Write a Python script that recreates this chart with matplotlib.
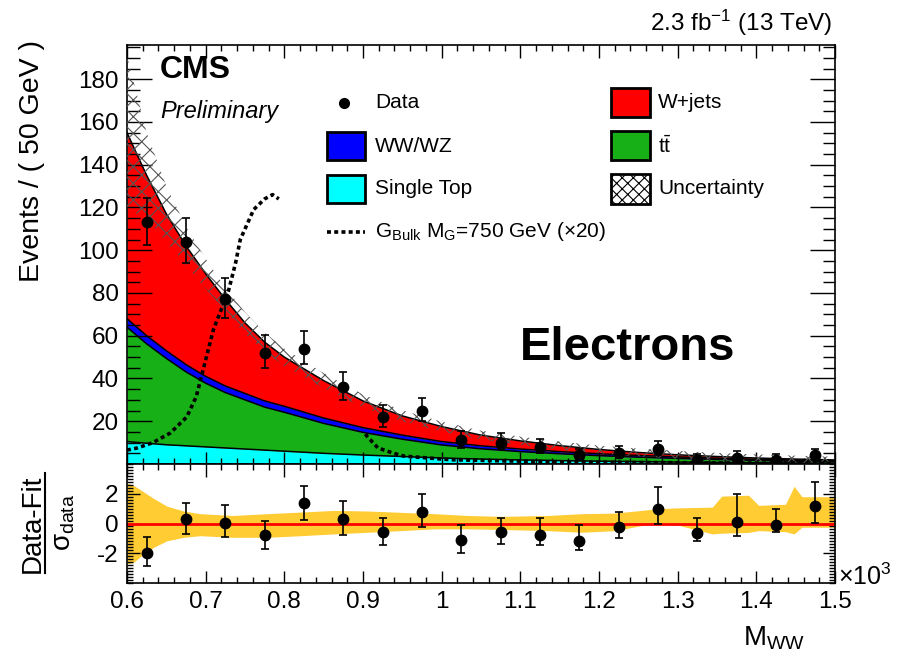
import matplotlib
matplotlib.use('Agg')
import matplotlib.pyplot as plt
import numpy as np
from matplotlib.ticker import MultipleLocator, FixedLocator, FuncFormatter
from matplotlib.patches import Rectangle
from matplotlib.lines import Line2D

plt.rcParams['font.family'] = ['Liberation Sans', 'DejaVu Sans']
plt.rcParams['mathtext.fontset'] = 'custom'
plt.rcParams['mathtext.rm'] = 'Liberation Sans'
plt.rcParams['mathtext.it'] = 'Liberation Sans:italic'
plt.rcParams['mathtext.bf'] = 'Liberation Sans:bold'
plt.rcParams['axes.unicode_minus'] = False
plt.rcParams['hatch.linewidth'] = 0.8

# ---------------- data ----------------
bin_centers = [0.625, 0.675, 0.725, 0.775, 0.825, 0.875, 0.925, 0.975, 1.025,
               1.075, 1.125, 1.175, 1.225, 1.275, 1.325, 1.375, 1.425, 1.475]
data_counts = [113, 104, 77, 52, 54, 36, 22, 25, 11, 10, 8, 4, 5, 7, 2, 3, 2, 4]
data_err_lo = [10.6, 10.2, 8.8, 7.2, 7.3, 6.0, 4.7, 5.0, 3.3, 3.1, 2.8, 1.9, 2.2, 2.6, 1.3, 1.6, 1.3, 1.9]
data_err_hi = [11.6, 11.2, 9.8, 8.3, 8.4, 7.1, 5.8, 6.1, 4.4, 4.3, 3.9, 3.2, 3.4, 3.8, 2.6, 2.9, 2.6, 3.2]

fit_x = [0.600, 0.625, 0.650, 0.675, 0.700, 0.725, 0.750, 0.775, 0.800, 0.850, 0.900, 0.950,
         1.000, 1.050, 1.100, 1.150, 1.200, 1.250, 1.300, 1.350, 1.400, 1.450, 1.500]
single_top = [10.5, 9.7, 9.0, 8.5, 8.0, 7.5, 7.0, 6.5, 6.0, 5.0, 4.2, 3.5, 2.8, 2.3, 1.9, 1.6,
              1.3, 1.1, 0.9, 0.75, 0.6, 0.5, 0.4]
ttbar = [53.5, 46.5, 40.4, 34.6, 29.8, 25.9, 23.0, 20.1, 18.2, 14.0, 10.6, 8.1, 6.1, 4.8, 3.9,
         3.2, 2.6, 2.1, 1.7, 1.35, 1.1, 0.85, 0.7]
ww_wz = [4.0, 3.8, 3.6, 3.4, 3.2, 3.1, 3.0, 2.9, 2.8, 2.5, 2.2, 1.9, 1.6, 1.4, 1.2, 1.0, 0.9,
         0.8, 0.7, 0.6, 0.5, 0.45, 0.4]
wjets = [87, 75, 64, 55.5, 48, 40.5, 33, 27.5, 23, 17.5, 12.5, 9, 7, 5, 3.8, 2.8, 2.0, 1.4,
         1.0, 0.8, 0.6, 0.5, 0.4]
unc_err = [36, 20, 13, 9, 7, 5.5, 5, 4.5, 4, 3.5, 3, 2.6, 2.3, 2.1, 2.0, 1.9, 1.8, 1.8, 1.8,
           1.7, 1.7, 1.6, 1.5]

sig1_x = [0.600, 0.613, 0.633, 0.655, 0.676, 0.688, 0.696, 0.710, 0.729, 0.738, 0.744, 0.761,
          0.775, 0.785, 0.793]
sig1_y = [6.5, 7.5, 10, 14.5, 22, 31.5, 43, 63, 81, 94, 105, 119, 124, 126, 124]
sig2_x = [0.903, 0.906, 0.919, 0.939, 0.952, 0.983, 1.012, 1.076, 1.15, 1.25, 1.35, 1.5]
sig2_y = [14, 12.6, 7.5, 5, 3.7, 2.8, 2.0, 1.5, 1.0, 0.7, 0.5, 0.3]

resid = [-1.95, 0.32, 0.02, -0.75, 1.35, 0.32, -0.6, 0.77, -1.1, -0.6, -0.75, -1.15, -0.25,
         0.95, -0.65, 0.1, -0.13, 1.15]
resid_lo = [0.9, 1.05, 0.95, 0.97, 1.1, 1.07, 0.83, 1.0, 0.85, 0.8, 0.7, 0.65, 0.72, 1.0,
            0.5, 0.95, 0.47, 1.1]
resid_hi = [1.02, 1.06, 1.2, 0.95, 1.17, 1.18, 1.0, 1.2, 1.0, 1.0, 1.1, 1.06, 1.0, 1.5,
            1.05, 1.9, 1.08, 1.65]

band_x = [0.600, 0.608, 0.621, 0.634, 0.651, 0.672, 0.693, 0.735, 0.778, 0.821, 0.863, 0.906,
          0.948, 0.991, 1.033, 1.076, 1.135, 1.178, 1.220, 1.254, 1.276, 1.300, 1.344, 1.356,
          1.390, 1.403, 1.437, 1.448, 1.458, 1.488, 1.500]
band_hi = [2.7, 2.58, 2.13, 1.68, 1.16, 0.84, 0.66, 0.54, 0.66, 0.77, 0.88, 0.84, 0.75, 0.66,
           0.54, 0.48, 0.54, 0.66, 0.70, 0.88, 1.0, 1.05, 1.1, 1.84, 1.9, 1.22, 1.29, 2.5,
           1.8, 1.8, 1.8]
band_lo = [-2.7, -2.63, -2.05, -1.6, -1.16, -0.93, -0.82, -0.93, -0.93, -0.82, -0.7, -0.59,
           -0.48, -0.36, -0.36, -0.4, -0.48, -0.59, -0.48, -0.14, 0.0, -0.1, -0.7, -0.65,
           -0.6, -0.48, -0.55, -0.7, -0.25, -0.25, -0.25]

# ---------------- figure ----------------
W, H = 910, 658
fig = plt.figure(figsize=(W / 100, H / 100), dpi=100)
L, R = 127, 835
T1, B1, B2 = 45, 464, 583
ax = fig.add_axes([L / W, 1 - B1 / H, (R - L) / W, (B1 - T1) / H])
rax = fig.add_axes([L / W, 1 - B2 / H, (R - L) / W, (B2 - B1) / H])

def fx(px):
    return px / W

def fy(py):
    return 1 - py / H

x = np.array(fit_x)
c1 = np.array(single_top)
c2 = c1 + np.array(ttbar)
c3 = c2 + np.array(ww_wz)
c4 = c3 + np.array(wjets)
unc = np.array(unc_err)

col_st, col_tt, col_ww, col_wj = '#00ffff', '#17b017', '#0000ff', '#ff0000'
ax.fill_between(x, 0, c1, color=col_st, lw=0, zorder=1)
ax.fill_between(x, c1, c2, color=col_tt, lw=0, zorder=1)
ax.fill_between(x, c2, c3, color=col_ww, lw=0, zorder=1)
ax.fill_between(x, c3, c4, color=col_wj, lw=0, zorder=1)
for c in (c1, c2, c3, c4):
    ax.plot(x, c, color='k', lw=1.1, zorder=2)
ax.fill_between(x, c4 - unc, c4 + unc, facecolor='none', edgecolor='#555555',
                hatch='xx', lw=0, zorder=3)

ax.plot(sig1_x, sig1_y, color='k', lw=2.6, ls=(0, (1.1, 0.9)), zorder=5)
ax.plot(sig2_x, sig2_y, color='k', lw=2.6, ls=(0, (1.1, 0.9)), zorder=5)

ax.errorbar(bin_centers, data_counts, yerr=[data_err_lo, data_err_hi], fmt='o', color='k',
            ms=7.5, elinewidth=1.2, capsize=3, capthick=1.2, zorder=6)

ax.set_xlim(0.6, 1.5)
ax.set_ylim(0, 196)
ax.xaxis.set_major_locator(MultipleLocator(0.1))
ax.xaxis.set_minor_locator(MultipleLocator(0.02))
ax.yaxis.set_major_locator(MultipleLocator(20))
ax.yaxis.set_minor_locator(MultipleLocator(5))
ax.yaxis.set_major_formatter(FuncFormatter(lambda v, p: '' if abs(v) < 1e-9 else f'{v:.0f}'))
ax.tick_params(which='both', direction='in', top=True, right=True, labelbottom=False,
               width=1, labelsize=17.5)
ax.tick_params(axis='y', which='major', length=18, pad=6)
ax.tick_params(axis='y', which='minor', length=9)
ax.tick_params(axis='x', which='major', length=9)
ax.tick_params(axis='x', which='minor', length=4.5)
for s in ax.spines.values():
    s.set_linewidth(1.2)

# residual panel
rax.fill_between(band_x, band_lo, band_hi, color='#ffcc33', lw=0, zorder=1)
rax.axhline(0, color='#ff0000', lw=2, zorder=2)
rax.errorbar(bin_centers, resid, yerr=[resid_lo, resid_hi], fmt='o', color='k', ms=7.5,
             elinewidth=1.2, capsize=3, capthick=1.2, zorder=3)
rax.set_xlim(0.6, 1.5)
rax.set_ylim(-4, 4)
rax.xaxis.set_major_locator(MultipleLocator(0.1))
rax.xaxis.set_minor_locator(MultipleLocator(0.02))
rax.xaxis.set_major_formatter(FuncFormatter(lambda v, p: f'{v:g}'))
rax.yaxis.set_major_locator(FixedLocator([-2, 0, 2]))
rax.yaxis.set_minor_locator(MultipleLocator(0.2))
rax.yaxis.set_major_formatter(FuncFormatter(lambda v, p: f'{v:g}'))
rax.tick_params(which='both', direction='in', top=True, right=True, width=1, labelsize=17.5)
rax.tick_params(axis='y', which='major', length=9, pad=6)
rax.tick_params(axis='y', which='minor', length=4.5)
rax.tick_params(axis='x', which='major', length=9, pad=6)
rax.tick_params(axis='x', which='minor', length=4.5)
for s in rax.spines.values():
    s.set_linewidth(1.2)

# ---------------- texts ----------------
fig.text(fx(832), fy(31), r'2.3 fb$^{-1}$ (13 TeV)', ha='right', va='baseline', fontsize=17.5)
fig.text(fx(160), fy(78), 'CMS', ha='left', va='baseline', fontsize=23, weight='bold')
fig.text(fx(160), fy(118), 'Preliminary', ha='left', va='baseline', fontsize=17, style='italic')
fig.text(fx(520), fy(360), 'Electrons', ha='left', va='baseline', fontsize=34, weight='bold')
fig.text(fx(32), fy(40), 'Events / ( 50 GeV )', rotation=90, ha='center', va='top', fontsize=20.5)
fig.text(fx(33), fy(524), 'Data-Fit', rotation=90, ha='center', va='center', fontsize=20)
fig.add_artist(Line2D([fx(45), fx(45)], [fy(473), fy(573)], color='k', lw=1.5,
                      transform=fig.transFigure))
fig.text(fx(64), fy(522), r'$\mathrm{\sigma}_{\rm data}$', rotation=90, ha='center',
         va='center', fontsize=20)
fig.text(fx(838), fy(585), r'$\times$10$^{3}$', ha='left', va='baseline', fontsize=18)
fig.text(fx(805), fy(645), r'M$_{\rm WW}$', ha='right', va='baseline', fontsize=20)

# ---------------- legend ----------------
lfs = 15

def box(x0, y0, x1, y1, face, hatch=None):
    r = Rectangle((fx(x0), fy(y1)), fx(x1) - fx(x0), fy(y0) - fy(y1), transform=fig.transFigure,
                  facecolor=face, edgecolor='k', lw=2, hatch=hatch)
    fig.add_artist(r)

fig.add_artist(Line2D([fx(344)], [fy(103)], marker='o', ms=7, color='k', transform=fig.transFigure))
fig.text(fx(375), fy(103), 'Data', va='center', fontsize=lfs)
box(327, 132, 365, 160, col_ww)
fig.text(fx(375), fy(146), 'WW/WZ', va='center', fontsize=lfs)
box(327, 175, 365, 203, col_st)
fig.text(fx(375), fy(189), 'Single Top', va='center', fontsize=lfs)
fig.add_artist(Line2D([fx(327), fx(365)], [fy(232), fy(232)], color='k', lw=2.6,
                      ls=(0, (1.1, 0.9)), transform=fig.transFigure))
fig.text(fx(375), fy(232), r'G$_{\rm Bulk}$ M$_{\rm G}$=750 GeV ($\times$20)', va='center',
         fontsize=lfs)
box(611, 88, 650, 117, col_wj)
fig.text(fx(658), fy(103), 'W+jets', va='center', fontsize=lfs)
box(611, 131, 650, 160, col_tt)
fig.text(fx(658), fy(146), r't$\bar{\rm t}$', va='center', fontsize=lfs)
plt.rcParams['hatch.color'] = '#555555'
box(611, 174, 650, 204, 'white', hatch='xxx')
fig.text(fx(658), fy(189), 'Uncertainty', va='center', fontsize=lfs)

fig.savefig('out.png', dpi=100)
